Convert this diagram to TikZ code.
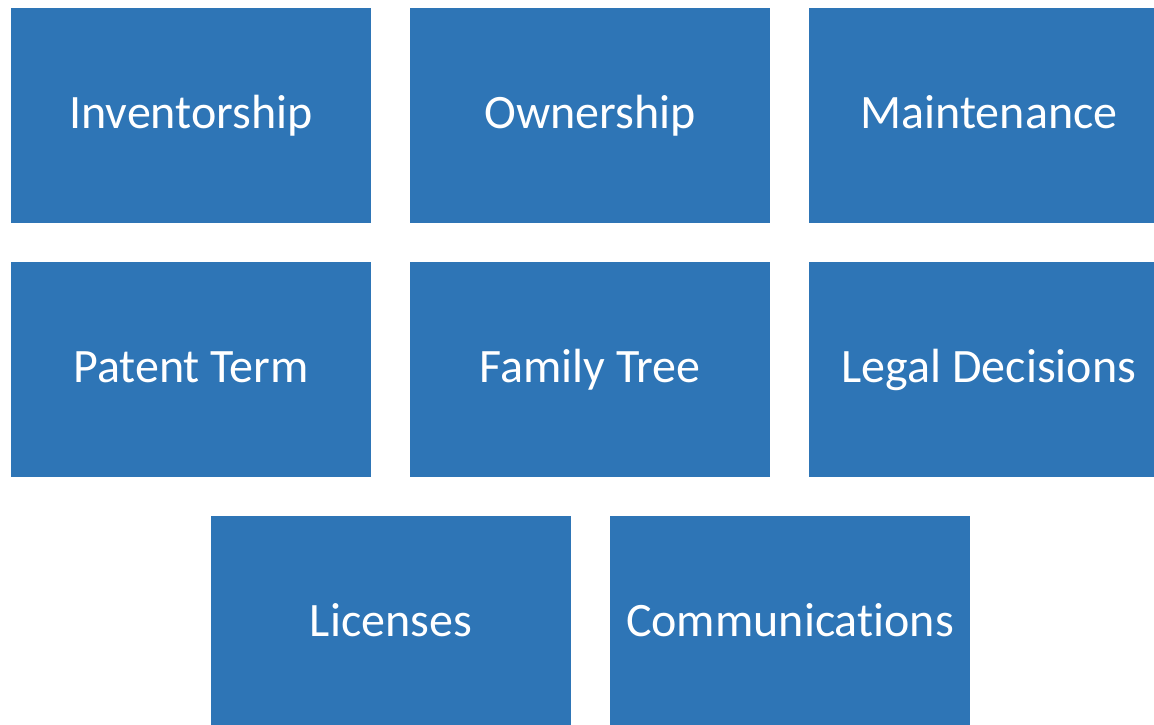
\documentclass[tikz,border=0pt]{standalone}
\usepackage{fontspec}
\setmainfont[Ligatures={NoCommon}]{Carlito}
\definecolor{boxblue}{HTML}{2E75B6}
\begin{document}
\begin{tikzpicture}[x=1pt,y=-1pt,
  tile/.style={fill=boxblue, draw=none, minimum width=360pt, minimum height=215pt, inner sep=0pt, anchor=north west},
  lbl/.style={text=white, anchor=base, inner sep=0pt, font=\fontsize{48}{52}\selectfont}]
\useasboundingbox (0,0) rectangle (1154,725);
\begin{scope}
\clip (0,0) rectangle (1154,725);
\node[tile] (inv) at (11,8) {};
\node[tile] (own) at (410,8) {};
\node[tile, minimum width=345pt] (mnt) at (809,8) {};
\node[tile] (pat) at (11,262) {};
\node[tile] (fam) at (410,262) {};
\node[tile, minimum width=345pt] (leg) at (809,262) {};
\node[tile] (lic) at (211,516) {};
\node[tile] (com) at (610,516) {};
\end{scope}
\node[lbl] (tinv) at (191,128) {Inventorship};
\node[lbl] (town) at (590,128) {Ownership};
\node[lbl] (tmnt) at (989,128) {Maintenance};
\node[lbl] (tpat) at (191,382) {Patent Term};
\node[lbl] (tfam) at (590,382) {Family Tree};
\node[lbl] (tleg) at (989,382) {Legal Decisions};
\node[lbl] (tlic) at (391,636) {Licenses};
\node[lbl] (tcom) at (790,636) {Communications};
\end{tikzpicture}
\end{document}
